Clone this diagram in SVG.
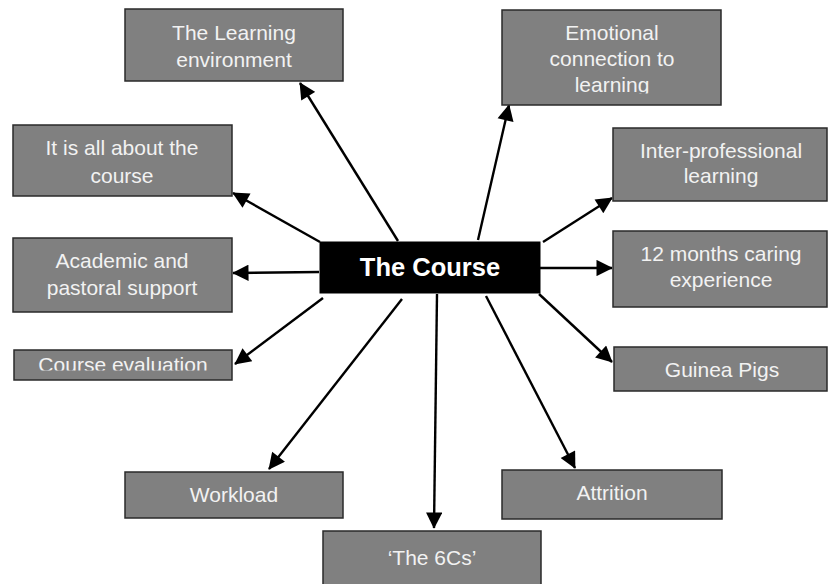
<svg xmlns="http://www.w3.org/2000/svg" width="828" height="584" viewBox="0 0 828 584">
<style>
.box{fill:#808080;stroke:#2a2a2a;stroke-width:1.5}
.t{font-family:"Liberation Sans",Arial,sans-serif;font-size:21px;fill:#f2f2f2;text-anchor:middle}
.c{stroke:#000;stroke-width:2.4;fill:none;marker-end:url(#ah)}
</style>
<defs>
<marker id="ah" viewBox="0 0 10 10" refX="9.5" refY="5" markerWidth="7.5" markerHeight="6.8" markerUnits="strokeWidth" orient="auto">
<path d="M0,0 L10,5 L0,10 z" fill="#000"/>
</marker>
<clipPath id="clipEmo"><rect x="502" y="10" width="220" height="83.5"/></clipPath>
<clipPath id="clipEval"><rect x="14" y="350" width="220" height="20.5"/></clipPath>
</defs>
<rect width="828" height="584" fill="#fff"/>
<g id="connectors">
<line class="c" x1="398" y1="241" x2="300" y2="83"/>
<line class="c" x1="478" y1="240" x2="509" y2="105"/>
<line class="c" x1="320" y1="242" x2="233" y2="193"/>
<line class="c" x1="543" y1="242" x2="612" y2="198"/>
<line class="c" x1="319" y1="272" x2="233" y2="273"/>
<line class="c" x1="540" y1="268" x2="612" y2="268"/>
<line class="c" x1="323" y1="298" x2="235" y2="364"/>
<line class="c" x1="539" y1="294" x2="612" y2="362"/>
<line class="c" x1="402" y1="299" x2="269" y2="469"/>
<line class="c" x1="437" y1="294" x2="434" y2="528"/>
<line class="c" x1="486" y1="296" x2="575" y2="468"/>
</g>
<g id="center">
<rect x="320" y="242" width="220" height="51" fill="#000" stroke="#000"/>
<text x="430" y="276" font-family="'Liberation Sans',Arial,sans-serif" font-size="25.5" font-weight="bold" fill="#fff" text-anchor="middle">The Course</text>
</g>
<g id="learning-env">
<rect class="box" x="125" y="9" width="218" height="72"/>
<text class="t" x="234" y="40">The Learning</text>
<text class="t" x="234" y="67">environment</text>
</g>
<g id="emotional">
<rect class="box" x="502" y="10" width="219" height="95"/>
<g clip-path="url(#clipEmo)">
<text class="t" x="612" y="40">Emotional</text>
<text class="t" x="612" y="66">connection to</text>
<text class="t" x="612" y="92">learning</text>
</g>
</g>
<g id="all-about">
<rect class="box" x="13" y="125" width="219" height="71"/>
<text class="t" x="122" y="155">It is all about the</text>
<text class="t" x="122" y="183">course</text>
</g>
<g id="inter-prof">
<rect class="box" x="613" y="128" width="214" height="73"/>
<text class="t" x="721" y="158">Inter-professional</text>
<text class="t" x="721" y="183">learning</text>
</g>
<g id="academic">
<rect class="box" x="13" y="238" width="219" height="74"/>
<text class="t" x="122" y="268">Academic and</text>
<text class="t" x="122" y="295">pastoral support</text>
</g>
<g id="twelve-months">
<rect class="box" x="613" y="231" width="214" height="76"/>
<text class="t" x="721" y="261">12 months caring</text>
<text class="t" x="721" y="287">experience</text>
</g>
<g id="course-eval">
<rect class="box" x="14" y="350" width="218" height="30"/>
<text class="t" x="123" y="372" clip-path="url(#clipEval)">Course evaluation</text>
</g>
<g id="guinea-pigs">
<rect class="box" x="614" y="347" width="213" height="44"/>
<text class="t" x="722" y="377">Guinea Pigs</text>
</g>
<g id="workload">
<rect class="box" x="125" y="472" width="218" height="46"/>
<text class="t" x="234" y="502">Workload</text>
</g>
<g id="attrition">
<rect class="box" x="502" y="470" width="220" height="49"/>
<text class="t" x="612" y="500">Attrition</text>
</g>
<g id="six-cs">
<rect class="box" x="323" y="531" width="218" height="60"/>
<text class="t" x="432" y="565">‘The 6Cs’</text>
</g>
</svg>
